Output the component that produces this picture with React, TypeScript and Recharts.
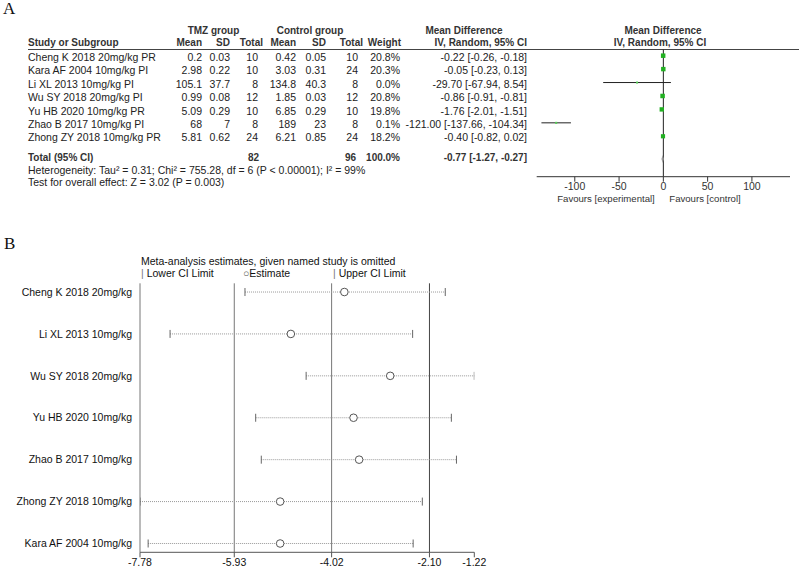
import React from "react";
import { ScatterChart, Scatter, XAxis, YAxis, ErrorBar, ReferenceLine } from "recharts";

// ---------- Panel A data ----------
const studiesA = [
  "Cheng K 2018 20mg/kg PR",
  "Kara AF 2004 10mg/kg PI",
  "Li XL 2013 10mg/kg PI",
  "Wu SY 2018 20mg/kg PI",
  "Yu HB 2020 10mg/kg PR",
  "Zhao B 2017 10mg/kg PI",
  "Zhong ZY 2018 10mg/kg PR",
];
const tmzMean = [0.2, 2.98, 105.1, 0.99, 5.09, 68, 5.81];
const tmzSD = [0.03, 0.22, 37.7, 0.08, 0.29, 7, 0.62];
const tmzN = [10, 10, 8, 12, 10, 8, 24];
const ctrlMean = [0.42, 3.03, 134.8, 1.85, 6.85, 189, 6.21];
const ctrlSD = [0.05, 0.31, 40.3, 0.03, 0.29, 23, 0.85];
const ctrlN = [10, 24, 8, 12, 10, 8, 24];
const weights = [20.8, 20.3, 0.0, 20.8, 19.8, 0.1, 18.2];
const mdA = [-0.22, -0.05, -29.7, -0.86, -1.76, -121.0, -0.4];
const loA = [-0.26, -0.23, -67.94, -0.91, -2.01, -137.66, -0.82];
const hiA = [-0.18, 0.13, 8.54, -0.81, -1.51, -104.34, 0.02];
const totalA = { md: -0.77, lo: -1.27, hi: -0.27, nT: 82, nC: 96, w: 100.0 };
const ticksA = [-100, -50, 0, 50, 100];

// ---------- Panel B data ----------
const studiesB = [
  "Cheng K 2018 20mg/kg",
  "Li XL 2013 10mg/kg",
  "Wu SY 2018 20mg/kg",
  "Yu HB 2020 10mg/kg",
  "Zhao B 2017 10mg/kg",
  "Zhong ZY 2018 10mg/kg",
  "Kara AF 2004 10mg/kg",
];
const estB = [-3.77, -4.82, -2.87, -3.59, -3.48, -5.03, -5.03];
const lowB = [-5.72, -7.19, -4.52, -5.51, -5.4, -7.78, -7.62];
const upB = [-1.79, -2.43, -1.22, -1.67, -1.57, -2.24, -2.42];
const ticksB = [-7.78, -5.93, -4.02, -2.1, -1.22];
const refLinesB = [-5.93, -4.02, -2.1];

const FONT = "'Liberation Sans', Arial, Helvetica, sans-serif";
const W = 799;

type TProps = {
  x: number;
  y: number;
  children: React.ReactNode;
  align?: "left" | "right" | "center";
  bold?: boolean;
  size?: number;
  color?: string;
  family?: string;
};
function T({ x, y, children, align = "left", bold = false, size = 10.5, color = "#222", family = FONT }: TProps) {
  const style: React.CSSProperties = {
    position: "absolute",
    top: y - 7,
    whiteSpace: "nowrap",
    fontSize: size,
    lineHeight: "14px",
    fontWeight: bold ? "bold" : "normal",
    color,
    fontFamily: family,
  };
  if (align === "left") style.left = x;
  if (align === "right") style.right = W - x;
  if (align === "center") {
    style.left = x;
    style.transform = "translateX(-50%)";
  }
  return <div style={style}>{children}</div>;
}

const rowYA = (i: number) => 56.8 + 13.43 * i;
const TOTAL_Y = 158;
const f2 = (v: number) => v.toFixed(2);
const ciText = (m: number, l: number, h: number) => `${f2(m)} [${f2(l)}, ${f2(h)}]`;

const dataA = studiesA.map((s, i) => ({
  x: mdA[i],
  y: i,
  err: [mdA[i] - loA[i], hiA[i] - mdA[i]],
  w: weights[i],
}));
const dataTotal = [{ x: totalA.md, y: 7.7 }];

const dataB = studiesB.map((s, i) => ({
  x: estB[i],
  y: i,
  err: [estB[i] - lowB[i], upB[i] - estB[i]],
}));
const lowDataB = studiesB.map((s, i) => ({ x: lowB[i], y: i }));
const upDataB = studiesB.map((s, i) => ({ x: upB[i], y: i }));

const squareShape = (props: any) => {
  const { cx, cy, payload } = props;
  const s = 2 + payload.w * 0.12;
  const col = payload.w < 1 ? "#55cc55" : "#22b022";
  return <rect x={cx - s / 2} y={cy - s / 2} width={s} height={s} fill={col} />;
};
const diamondShape = (props: any) => {
  const { cx, cy } = props;
  return (
    <polygon
      points={`${cx - 1.2},${cy} ${cx},${cy - 4} ${cx + 1.2},${cy} ${cx},${cy + 4}`}
      fill="#9a9a9a"
    />
  );
};
const circleShape = (props: any) => {
  const { cx, cy } = props;
  return <circle cx={cx} cy={cy} r={3.8} fill="#fff" stroke="#555" strokeWidth={1} />;
};
const capShape = (props: any) => {
  const { cx, cy } = props;
  return <line x1={cx} x2={cx} y1={cy - 4} y2={cy + 4} stroke="#666" strokeWidth={1} />;
};
const StudyTick = (props: any) => {
  const { x, y, payload } = props;
  return (
    <text x={x} y={y} dy="0.355em" textAnchor="end" fontSize={10.5} fill="#111" fontFamily={FONT}>
      {studiesB[payload.value] ?? ""}
    </text>
  );
};

export default function App() {
  const colsA = [
    { key: "tm", x: 202, hx: 202, vals: tmzMean.map(String), head: "Mean" },
    { key: "ts", x: 230, hx: 230, vals: tmzSD.map(String), head: "SD" },
    { key: "tn", x: 258, hx: 263, vals: tmzN.map(String), head: "Total" },
    { key: "cm", x: 296, hx: 296, vals: ctrlMean.map(String), head: "Mean" },
    { key: "cs", x: 326, hx: 326, vals: ctrlSD.map(String), head: "SD" },
    { key: "cn", x: 358, hx: 363, vals: ctrlN.map(String), head: "Total" },
    { key: "w", x: 400, hx: 401, vals: weights.map((v) => v.toFixed(1) + "%"), head: "Weight" },
  ];
  return (
    <div
      style={{
        position: "absolute",
        left: 0,
        top: 0,
        width: W,
        height: 568,
        background: "#fff",
        fontFamily: FONT,
        overflow: "hidden",
      }}
    >
      {/* ---------------- Panel A ---------------- */}
      <T x={3} y={9} size={17} color="#111" family="'Liberation Serif', 'Times New Roman', serif">
        A
      </T>
      <T x={213.5} y={31} align="center" bold size={10} color="#333">TMZ group</T>
      <T x={310} y={31} align="center" bold size={10} color="#333">Control group</T>
      <T x={464} y={31} align="center" bold size={10} color="#333">Mean Difference</T>
      <T x={663} y={31} align="center" bold size={10} color="#333">Mean Difference</T>
      <T x={28} y={43} bold size={10} color="#333">Study or Subgroup</T>
      {colsA.map((c) => (
        <T key={"h" + c.key} x={c.hx} y={43} align="right" bold size={10} color="#333">
          {c.head}
        </T>
      ))}
      <T x={527} y={43} align="right" bold size={10} color="#333">IV, Random, 95% CI</T>
      <T x={660} y={43} align="center" bold size={10} color="#333">IV, Random, 95% CI</T>
      <div style={{ position: "absolute", left: 28, top: 49, width: W - 28, height: 1, background: "#444" }} />

      {studiesA.map((s, i) => (
        <T key={"s" + i} x={28} y={rowYA(i)}>{s}</T>
      ))}
      {colsA.map((c) =>
        c.vals.map((v, i) => (
          <T key={c.key + i} x={c.x} y={rowYA(i)} align="right">{v}</T>
        ))
      )}
      {studiesA.map((s, i) => (
        <T key={"ci" + i} x={527} y={rowYA(i)} align="right">{ciText(mdA[i], loA[i], hiA[i])}</T>
      ))}

      <T x={28} y={TOTAL_Y} bold size={10} color="#333">Total (95% CI)</T>
      <T x={259} y={TOTAL_Y} align="right" bold size={10} color="#333">{String(totalA.nT)}</T>
      <T x={356} y={TOTAL_Y} align="right" bold size={10} color="#333">{String(totalA.nC)}</T>
      <T x={400} y={TOTAL_Y} align="right" bold size={10} color="#333">{totalA.w.toFixed(1) + "%"}</T>
      <T x={527} y={TOTAL_Y} align="right" bold size={10} color="#333">{ciText(totalA.md, totalA.lo, totalA.hi)}</T>
      <T x={28} y={169.5}>Heterogeneity: Tau² = 0.31; Chi² = 755.28, df = 6 (P &lt; 0.00001); I² = 99%</T>
      <T x={28} y={181.5}>Test for overall effect: Z = 3.02 (P = 0.003)</T>

      <div style={{ position: "absolute", left: 530, top: 45 }}>
        <ScatterChart width={269} height={165} margin={{ top: 4.5, right: 9, left: 6.7, bottom: 3.3 }}>
          <XAxis
            type="number"
            dataKey="x"
            domain={[-143, 143]}
            allowDataOverflow
            ticks={ticksA}
            tickSize={5}
            tickMargin={1}
            height={30}
            stroke="#333"
            tick={{ fontSize: 10.5, fill: "#333", fontFamily: FONT }}
            interval={0}
          />
          <YAxis type="number" dataKey="y" domain={[-0.46, 9.01]} allowDataOverflow reversed hide />
          <ReferenceLine x={0} stroke="#222" strokeWidth={1} />
          <Scatter data={dataA} shape={squareShape} isAnimationActive={false}>
            <ErrorBar dataKey="err" direction="x" width={0} stroke="#222" strokeWidth={1} isAnimationActive={false} />
          </Scatter>
          <Scatter data={dataTotal} shape={diamondShape} isAnimationActive={false} />
        </ScatterChart>
      </div>
      <T x={606} y={199} align="center" size={9.6} color="#333">Favours [experimental]</T>
      <T x={705} y={199} align="center" size={9.6} color="#333">Favours [control]</T>

      {/* ---------------- Panel B ---------------- */}
      <T x={4} y={244} size={17} color="#111" family="'Liberation Serif', 'Times New Roman', serif">
        B
      </T>
      <T x={141} y={261} color="#111">Meta-analysis estimates, given named study is omitted</T>
      <T x={141} y={273} color="#111">
        <span style={{ color: "#777" }}>| </span>Lower CI Limit
      </T>
      <T x={243} y={273} color="#111">
        <span style={{ color: "#555" }}>○</span>Estimate
      </T>
      <T x={333} y={273} color="#111">
        <span style={{ color: "#777" }}>| </span>Upper CI Limit
      </T>

      <div style={{ position: "absolute", left: 0, top: 280 }}>
        <ScatterChart width={500} height={300} margin={{ top: 3.3, right: 25.7, left: 0, bottom: 0 }}>
          <XAxis
            type="number"
            dataKey="x"
            domain={[-7.78, -1.22]}
            allowDataOverflow
            ticks={ticksB}
            tickFormatter={(v: number) => v.toFixed(2)}
            tickSize={5}
            tickMargin={1}
            height={27.7}
            stroke="#555"
            tick={{ fontSize: 10.5, fill: "#111", fontFamily: FONT }}
            interval={0}
          />
          <YAxis
            type="number"
            dataKey="y"
            domain={[-0.208, 6.21]}
            allowDataOverflow
            reversed
            ticks={[0, 1, 2, 3, 4, 5, 6]}
            width={140}
            tickLine={false}
            tickSize={6}
            tickMargin={2}
            stroke="#777"
            tick={<StudyTick />}
            interval={0}
          />
          {refLinesB.map((v, i) => (
            <ReferenceLine key={"rl" + i} x={v} stroke={i === 2 ? "#444" : "#777"} strokeWidth={1} />
          ))}
          <Scatter data={dataB} shape={circleShape} isAnimationActive={false}>
            <ErrorBar
              dataKey="err"
              direction="x"
              width={0}
              stroke="#999"
              strokeWidth={1}
              strokeDasharray="1 1"
              isAnimationActive={false}
            />
          </Scatter>
          <Scatter data={lowDataB} shape={capShape} isAnimationActive={false} />
          <Scatter data={upDataB} shape={capShape} isAnimationActive={false} />
        </ScatterChart>
      </div>
    </div>
  );
}
